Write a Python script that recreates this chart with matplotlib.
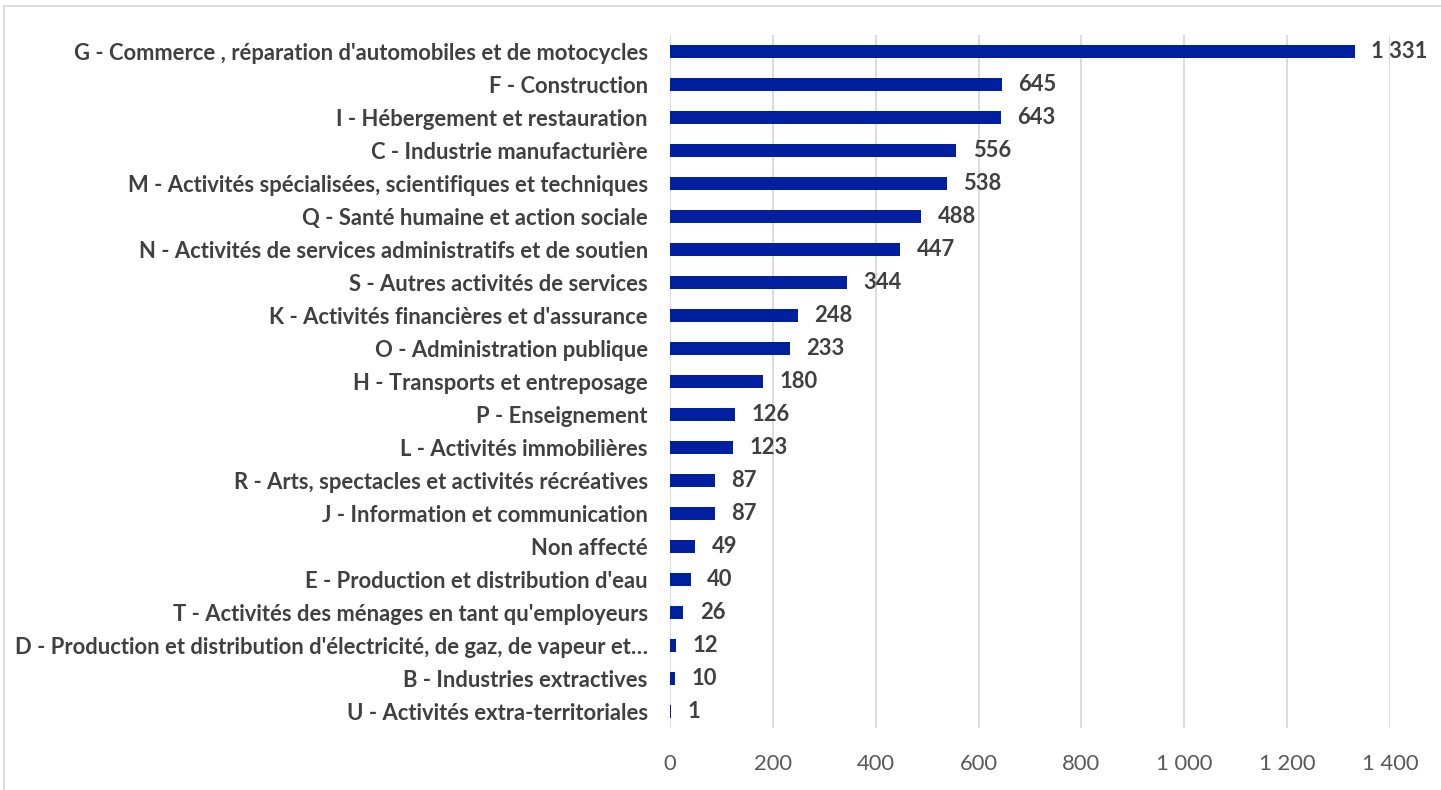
import matplotlib
matplotlib.use("Agg")
import matplotlib.pyplot as plt
from matplotlib.patches import Rectangle
from matplotlib.ticker import FuncFormatter, MultipleLocator

categories = [
    "G - Commerce , réparation d'automobiles et de motocycles",
    "F - Construction",
    "I - Hébergement et restauration",
    "C - Industrie manufacturière",
    "M - Activités spécialisées, scientifiques et techniques",
    "Q - Santé humaine et action sociale",
    "N - Activités de services administratifs et de soutien",
    "S - Autres activités de services",
    "K - Activités financières et d'assurance",
    "O - Administration publique",
    "H - Transports et entreposage",
    "P - Enseignement",
    "L - Activités immobilières",
    "R - Arts, spectacles et activités récréatives",
    "J - Information et communication",
    "Non affecté",
    "E - Production et distribution d'eau",
    "T - Activités des ménages en tant qu'employeurs",
    "D - Production et distribution d'électricité, de gaz, de vapeur et…",
    "B - Industries extractives",
    "U - Activités extra-territoriales",
]
values = [1331, 645, 643, 556, 538, 488, 447, 344, 248, 233, 180, 126, 123,
          87, 87, 49, 40, 26, 12, 10, 1]

BAR = "#0020A0"
TXT = "#404040"
TICK = "#595959"
GRID = "#D9D9D9"
FS = 15.8

plt.rcParams['font.family'] = ['Lato', 'DejaVu Sans']

fig = plt.figure(figsize=(14.41, 7.90), dpi=100)
ax = fig.add_axes([670/1441, 1-728/790, 720/1441, 693/790])

n = len(categories)
ypos = list(range(n))
ax.barh(ypos, values, height=0.38, color=BAR, zorder=3)
ax.set_ylim(n - 0.5, -0.5)
ax.set_xlim(0, 1400)
ax.xaxis.set_major_locator(MultipleLocator(200))
ax.xaxis.set_major_formatter(FuncFormatter(lambda v, p: f"{int(v):,}".replace(",", " ")))
ax.grid(axis='x', color=GRID, linewidth=1.3, zorder=0)
for s in ax.spines.values():
    s.set_visible(False)
ax.set_yticks(ypos)
ax.set_yticklabels(categories, fontsize=FS, fontweight='bold', color=TXT)
ax.tick_params(axis='y', length=0, pad=16)
ax.tick_params(axis='x', length=0, pad=19, labelsize=FS, labelcolor=TICK)

for y, v in zip(ypos, values):
    ax.annotate(f"{v:,}".replace(",", " "), xy=(v, y), xytext=(12, 0),
                textcoords='offset points', va='center', ha='left',
                fontsize=FS, fontweight='bold', color=TXT, zorder=4)

fig.patches.append(Rectangle((4/1441, -0.1), 1.2, 1.1 - 6/790, transform=fig.transFigure,
                             fill=False, edgecolor=GRID, linewidth=1.3))

fig.savefig("out.png", dpi=100)
